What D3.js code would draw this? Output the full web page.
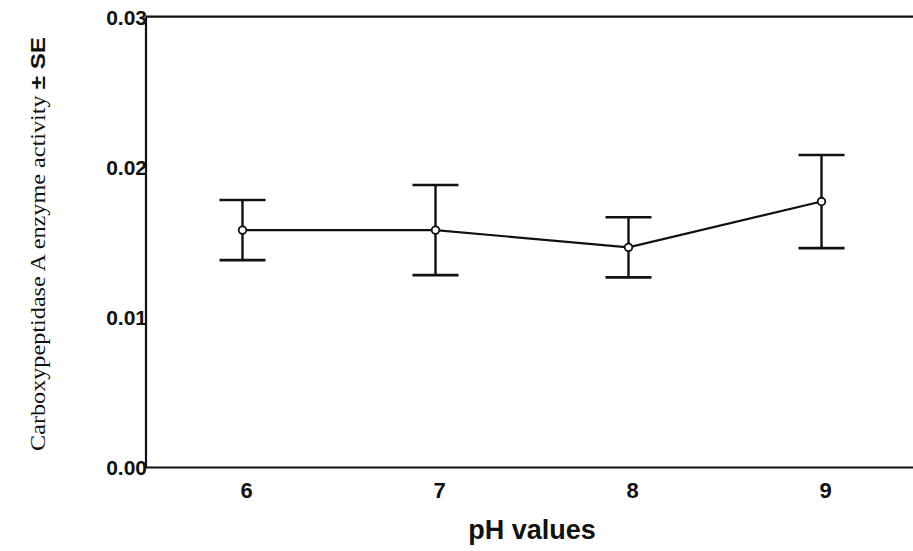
<!DOCTYPE html>
<html><head><meta charset="utf-8">
<script src="https://cdn.jsdelivr.net/npm/d3@7"></script>
<style>body{margin:0;background:#fff;}svg{display:block;}</style>
</head><body>
<script>
const phValues = [6, 7, 8, 9];
const meanActivity = [0.0158, 0.0158, 0.01465, 0.0177];
const seActivity = [0.0020, 0.0030, 0.0020, 0.0031];
const yTicks = [0, 0.01, 0.02, 0.03];
const yTickLabels = ["0.00", "0.01", "0.02", "0.03"];
const xTicks = [6, 7, 8, 9];

const W = 913, H = 551;
const svg = d3.select("body").append("svg").attr("width", W).attr("height", H);
const x = d3.scaleLinear().domain([5.5, 9.5]).range([146, 918]);
const y = d3.scaleLinear().domain([0, 0.03]).range([467.5, 16.7]);

const g = svg.append("g");
g.append("line").attr("x1", x(5.5)).attr("x2", x(5.5)).attr("y1", y(0.03)).attr("y2", y(0)).attr("stroke", "#111").attr("stroke-width", 2.2);
g.append("line").attr("x1", x(5.5)).attr("x2", x(9.5)).attr("y1", y(0.03)).attr("y2", y(0.03)).attr("stroke", "#111").attr("stroke-width", 2.2);
g.append("line").attr("x1", x(5.5)).attr("x2", x(9.5)).attr("y1", y(0)).attr("y2", y(0)).attr("stroke", "#111").attr("stroke-width", 2.2);

g.selectAll(".yt").data(yTicks).enter().append("text")
  .attr("x", x(5.5) + 1).attr("y", d => y(d)).attr("dy", "0.38em")
  .attr("text-anchor", "end")
  .style("font-family", "Liberation Sans, Arial, sans-serif").style("font-weight", "bold").style("font-size", "21px").attr("fill", "#111")
  .text((d, i) => yTickLabels[i]);

g.selectAll(".xt").data(xTicks).enter().append("text")
  .attr("x", d => x(d) + 4).attr("y", 498)
  .attr("text-anchor", "middle")
  .style("font-family", "Liberation Sans, Arial, sans-serif").style("font-weight", "bold").style("font-size", "22px").attr("fill", "#111")
  .text(d => d);

svg.append("text").attr("x", 532).attr("y", 539).attr("text-anchor", "middle")
  .style("font-family", "Liberation Sans, Arial, sans-serif").style("font-weight", "bold").style("font-size", "27px").attr("fill", "#111")
  .text("pH values");

const yt = svg.append("text").attr("transform", "translate(45,244) rotate(-90)").attr("text-anchor", "middle")
  .attr("textLength", 414).attr("lengthAdjust", "spacingAndGlyphs")
  .style("font-family", "Liberation Serif, Times New Roman, serif").style("font-size", "20px").attr("fill", "#111");
yt.append("tspan").text("Carboxypeptidase A enzyme activity ");
yt.append("tspan").style("font-family", "Liberation Sans, Arial, sans-serif").style("font-weight", "bold").text("± SE");

const data = phValues.map((p, i) => ({p, m: meanActivity[i], se: seActivity[i]}));

const cap = 23;
const eb = g.selectAll(".eb").data(data).enter().append("g");
eb.append("line").attr("x1", d => x(d.p)).attr("x2", d => x(d.p)).attr("y1", d => y(d.m - d.se)).attr("y2", d => y(d.m + d.se)).attr("stroke", "#111").attr("stroke-width", 2.4);
eb.append("line").attr("x1", d => x(d.p) - cap).attr("x2", d => x(d.p) + cap).attr("y1", d => y(d.m + d.se)).attr("y2", d => y(d.m + d.se)).attr("stroke", "#111").attr("stroke-width", 2.6);
eb.append("line").attr("x1", d => x(d.p) - cap).attr("x2", d => x(d.p) + cap).attr("y1", d => y(d.m - d.se)).attr("y2", d => y(d.m - d.se)).attr("stroke", "#111").attr("stroke-width", 2.6);

g.append("path").datum(data).attr("fill", "none").attr("stroke", "#111").attr("stroke-width", 2.2)
  .attr("d", d3.line().x(d => x(d.p)).y(d => y(d.m)));

g.selectAll(".pt").data(data).enter().append("circle")
  .attr("cx", d => x(d.p)).attr("cy", d => y(d.m)).attr("r", 3.8)
  .attr("fill", "#fff").attr("stroke", "#111").attr("stroke-width", 1.8);
</script>
</body></html>
